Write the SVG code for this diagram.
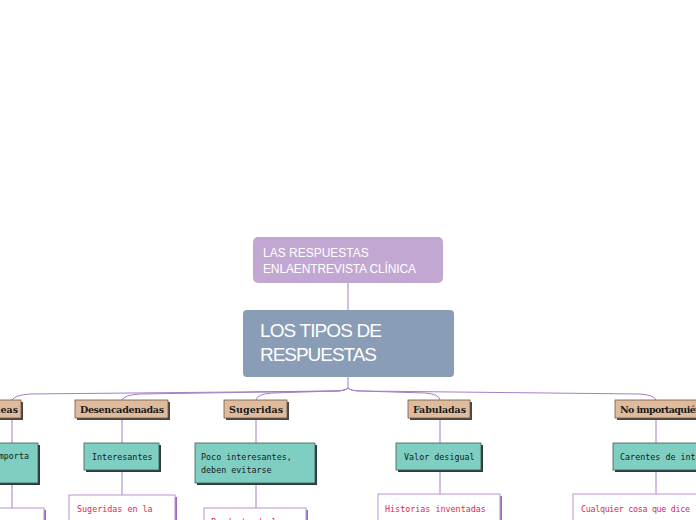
<svg xmlns="http://www.w3.org/2000/svg" width="696" height="520" viewBox="0 0 696 520">
<style>
.cat rect.s{fill:#4a4540}
.cat rect.b{fill:#dfbb9c;stroke:#6b5a4c;stroke-width:0.8}
.cat text{font-family:"DejaVu Serif",serif;font-weight:bold;font-size:9.5px;fill:#1a1a1a}
.tl rect.s{fill:#2f3a38}
.tl rect.b{fill:#7ecfc1;stroke:#3d5e58;stroke-width:0.8}
.tl text{font-family:"DejaVu Sans Mono",monospace;font-size:8.4px;fill:#1a1a1a}
.rd rect.s{fill:#9a6cc0}
.rd rect.b{fill:#fff;stroke:#b794d2;stroke-width:1}
.rd text{font-family:"DejaVu Sans Mono",monospace;font-size:8.4px;fill:#d42a55}
.conn path{fill:none;stroke:#a47fc4;stroke-width:1}
</style>
<rect width="696" height="520" fill="#fff"/>
<g class="conn">
<path d="M348,283 L348,310" stroke="#7b3fa0" stroke-width="1.5"/>
<path d="M348,377 L348,388" stroke="#7b3fa0" stroke-width="1.5"/>
<path d="M348,388 Q345,391 335,391 L30,394 Q15,395 12,400"/>
<path d="M348,388 Q345,391 335,391 L140,394 Q124,395 122,400"/>
<path d="M348,388 Q345,391 335,391 L272,393 Q257,394 256,400"/>
<path d="M348,388 Q351,391 361,391 L425,393 Q439,394 440,400"/>
<path d="M348,388 Q351,391 361,391 L640,394 Q654,395 656,400"/>
<path d="M122,418 L122,443"/>
<path d="M122,470 L122,495"/>
<path d="M256,418 L256,443"/>
<path d="M256,483 L256,508"/>
<path d="M440,418 L440,443"/>
<path d="M440,470 L440,494"/>
<path d="M656,418 L656,443"/>
<path d="M656,470 L656,494"/>
<path d="M12,418 L12,443"/>
<path d="M12,483 L12,508"/>
</g>
<g id="top">
<rect x="253" y="237" width="190" height="46" rx="5" fill="#c3a7d3"/>
<text x="263" y="257" font-family="Liberation Sans, Arial, sans-serif" font-size="12" fill="#fff">LAS RESPUESTAS</text>
<text x="263" y="273" font-family="Liberation Sans, Arial, sans-serif" font-size="12" fill="#fff" textLength="153">ENLAENTREVISTA CLÍNICA</text>
</g>
<g id="root">
<rect x="243" y="310" width="211" height="67" rx="4" fill="#8a9db6"/>
<text x="260" y="337" font-family="Liberation Sans, Arial, sans-serif" font-size="19" fill="#fff" textLength="122">LOS TIPOS DE</text>
<text x="260" y="361" font-family="Liberation Sans, Arial, sans-serif" font-size="19" fill="#fff" textLength="117">RESPUESTAS</text>
</g>
<g id="cat1" class="cat">
<rect class="s" x="-40" y="402" width="63" height="18"/>
<rect class="b" x="-42" y="400" width="63" height="18"/>
<text x="18" y="413" text-anchor="end">Espontáneas</text>
</g>
<g id="cat2" class="cat">
<rect class="s" x="77" y="402" width="93" height="18"/>
<rect class="b" x="75" y="400" width="93" height="18"/>
<text x="80" y="413" textLength="84">Desencadenadas</text>
</g>
<g id="cat3" class="cat">
<rect class="s" x="226" y="402" width="63" height="18"/>
<rect class="b" x="224" y="400" width="63" height="18"/>
<text x="229" y="413" textLength="54">Sugeridas</text>
</g>
<g id="cat4" class="cat">
<rect class="s" x="410" y="402" width="62" height="18"/>
<rect class="b" x="408" y="400" width="62" height="18"/>
<text x="413" y="413" textLength="53">Fabuladas</text>
</g>
<g id="cat5" class="cat">
<rect class="s" x="617" y="402" width="90" height="18"/>
<rect class="b" x="615" y="400" width="90" height="18"/>
<text x="620" y="413" textLength="82">No importaquién</text>
</g>
<g id="t1" class="tl">
<rect class="s" x="-60" y="445" width="100" height="40"/>
<rect class="b" x="-62" y="443" width="100" height="40"/>
<text x="29" y="459" text-anchor="end">importa</text>
</g>
<g id="t2" class="tl">
<rect class="s" x="86" y="445" width="75" height="27"/>
<rect class="b" x="84" y="443" width="75" height="27"/>
<text x="92" y="460">Interesantes</text>
</g>
<g id="t3" class="tl">
<rect class="s" x="197" y="445" width="120" height="40"/>
<rect class="b" x="195" y="443" width="120" height="40"/>
<text x="201" y="460">Poco interesantes,</text>
<text x="201" y="473">deben evitarse</text>
</g>
<g id="t4" class="tl">
<rect class="s" x="398" y="445" width="85" height="27"/>
<rect class="b" x="396" y="443" width="85" height="27"/>
<text x="404" y="460">Valor desigual</text>
</g>
<g id="t5" class="tl">
<rect class="s" x="615" y="445" width="100" height="27"/>
<rect class="b" x="613" y="443" width="100" height="27"/>
<text x="620" y="460">Carentes de interés</text>
</g>
<g id="r1" class="rd">
<rect class="s" x="-58" y="510" width="104" height="30"/>
<rect class="b" x="-60" y="508" width="104" height="30"/>
</g>
<g id="r2" class="rd">
<rect class="s" x="71" y="497" width="106" height="40"/>
<rect class="b" x="69" y="495" width="106" height="40"/>
<text x="77" y="512">Sugeridas en la</text>
</g>
<g id="r3" class="rd">
<rect class="s" x="206" y="510" width="102" height="30"/>
<rect class="b" x="204" y="508" width="102" height="30"/>
<text x="211" y="525">Producto de la</text>
</g>
<g id="r4" class="rd">
<rect class="s" x="380" y="496" width="122" height="40"/>
<rect class="b" x="378" y="494" width="122" height="40"/>
<text x="385" y="512">Historias inventadas</text>
</g>
<g id="r5" class="rd">
<rect class="s" x="575" y="496" width="130" height="40"/>
<rect class="b" x="573" y="494" width="130" height="40"/>
<text x="581" y="512" textLength="109">Cualquier cosa que dice</text>
</g>
</svg>
